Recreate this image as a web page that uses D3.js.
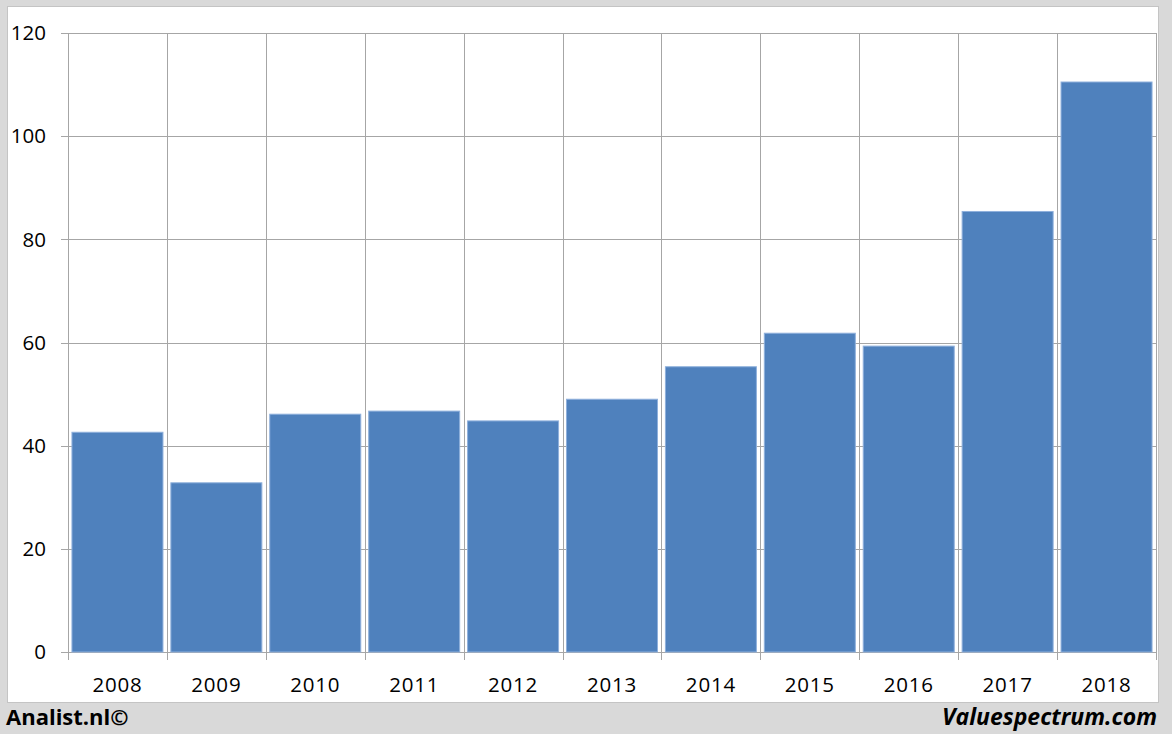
<!DOCTYPE html>
<html><head><meta charset="utf-8">
<script src="https://cdn.jsdelivr.net/npm/d3@7"></script>
<style>body{margin:0;background:#d9d9d9;}svg{display:block;}</style>
</head><body>
<svg id="c" width="1172" height="734"></svg>
<script>
const years = ["2008","2009","2010","2011","2012","2013","2014","2015","2016","2017","2018"];
const values = [42.6, 32.8, 46.1, 46.7, 44.8, 49.0, 55.3, 61.8, 59.3, 85.4, 110.5];
const yTicks = [0, 20, 40, 60, 80, 100, 120];

(function () {
const svg = d3.select("#c");
const W = 1172, H = 734;
svg.append("rect").attr("width", W).attr("height", H).attr("fill", "#d9d9d9");
svg.append("rect").attr("x", 7.5).attr("y", 6.5).attr("width", 1151).attr("height", 696)
  .attr("fill", "#fff").attr("stroke", "#c4c4c4").attr("stroke-width", 1);

const pLeft = 68, pRight = 1156, pTop = 33, pBottom = 652;
const x = d3.scaleBand().domain(years).range([pLeft, pRight]).paddingInner(0.08).paddingOuter(0.04);
const y = d3.scaleLinear().domain([0, 120]).range([pBottom, pTop]);
const font = "'Open Sans', 'Liberation Sans', sans-serif";

const g = svg.append("g");
g.selectAll("line.h").data(yTicks).join("line")
  .attr("x1", pLeft - 7).attr("x2", pRight)
  .attr("y1", d => Math.round(y(d)) + 0.5).attr("y2", d => Math.round(y(d)) + 0.5)
  .attr("stroke", "#a6a6a6").attr("stroke-width", 1);
const step = (pRight - pLeft) / years.length;
const bounds = d3.range(years.length + 1).map(i => pLeft + i * step);
g.selectAll("line.v").data(bounds).join("line")
  .attr("x1", d => Math.round(d) + 0.5).attr("x2", d => Math.round(d) + 0.5)
  .attr("y1", pTop).attr("y2", pBottom + 8)
  .attr("stroke", "#a6a6a6").attr("stroke-width", 1);

svg.append("g").selectAll("rect").data(values).join("rect")
  .attr("x", (d, i) => x(years[i]))
  .attr("width", x.bandwidth())
  .attr("y", d => y(d))
  .attr("height", d => y(0) - y(d))
  .attr("fill", "#4f81bd")
  .attr("stroke", "#8fb0dc").attr("stroke-width", 1);

svg.append("g").selectAll("text").data(yTicks).join("text")
  .attr("x", 46).attr("y", d => y(d)).attr("dy", "0.35em")
  .attr("text-anchor", "end").attr("font-family", font).attr("font-size", 20.5)
  .attr("fill", "#000").text(d => d);

svg.append("g").selectAll("text").data(years).join("text")
  .attr("x", d => x(d) + x.bandwidth() / 2).attr("y", 692)
  .attr("text-anchor", "middle").attr("font-family", font).attr("font-size", 20.5)
  .attr("letter-spacing", "0.8px")
  .attr("fill", "#000").text(d => d);

svg.append("text").attr("x", 6).attr("y", 725).attr("font-family", font)
  .attr("font-size", 22).attr("font-weight", "bold").attr("fill", "#000").text("Analist.nl©");
svg.append("text").attr("x", 1157).attr("y", 725).attr("text-anchor", "end").attr("font-family", font)
  .attr("font-size", 23).attr("font-weight", "bold").attr("font-style", "italic").attr("fill", "#000").text("Valuespectrum.com");
})();
</script>
</body></html>
